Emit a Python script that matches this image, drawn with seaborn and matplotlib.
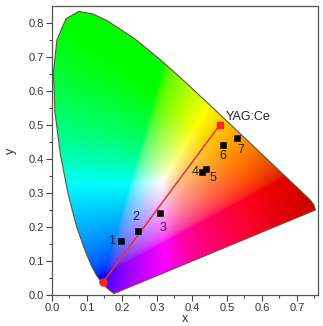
import numpy as np
import pandas as pd
import matplotlib
matplotlib.use("Agg")
import matplotlib.pyplot as plt
from matplotlib.path import Path
from matplotlib.patches import PathPatch
import seaborn as sns

sns.set_theme(style="ticks")
plt.rcParams["font.family"] = ["Liberation Sans", "DejaVu Sans"]

# spectral locus as drawn in the figure (380-700 nm)
locus_x = [0.1785, 0.1781, 0.1776, 0.1769, 0.1757, 0.1731, 0.1685, 0.1605, 0.1476, 0.1272,
           0.1123, 0.0936, 0.0704, 0.0465, 0.0241, 0.0084, 0.0040, 0.0142, 0.0399, 0.0762,
           0.1171, 0.1586, 0.2353, 0.3091, 0.3824, 0.4552, 0.5253, 0.5896, 0.6427, 0.6824,
           0.7088, 0.7370, 0.7483, 0.7531]
locus_y = [0.0050, 0.0049, 0.0048, 0.0048, 0.0051, 0.0069, 0.0109, 0.0177, 0.0297, 0.0578,
           0.0868, 0.1327, 0.2007, 0.2950, 0.4127, 0.5384, 0.6548, 0.7502, 0.8120, 0.8338,
           0.8262, 0.8059, 0.7543, 0.6923, 0.6245, 0.5547, 0.4866, 0.4242, 0.3725, 0.3340,
           0.3083, 0.2809, 0.2660, 0.2500]

# samples
sample_labels = ["1", "2", "3", "4", "5", "6", "7"]
sample_x = [0.197, 0.246, 0.309, 0.429, 0.440, 0.489, 0.529]
sample_y = [0.159, 0.188, 0.241, 0.362, 0.371, 0.441, 0.462]

# tie line: blue end and YAG:Ce
line_x = [0.146, 0.480]
line_y = [0.038, 0.500]

xmax, ymax = 0.76, 0.85

fig = plt.figure(figsize=(3.23, 3.26), dpi=100)
ax = fig.add_axes([0.161, 0.095, 0.823, 0.887])

# colour fill of the horseshoe
n = 400
gx, gy = np.meshgrid(np.linspace(0, xmax, n), np.linspace(0, ymax, n))
gy_safe = np.where(gy < 1e-4, 1e-4, gy)
X = gx / gy_safe
Y = np.ones_like(gx)
Z = (1 - gx - gy) / gy_safe
M = np.array([[3.2406, -1.5372, -0.4986],
              [-0.9689, 1.8758, 0.0415],
              [0.0557, -0.2040, 1.0570]])
rgb = np.einsum("ij,jkl->kli", M, np.stack([X, Y, Z]))
rgb = np.clip(rgb, 0, None)
rgb = rgb / rgb.max(axis=2, keepdims=True).clip(1e-9)
rgb[..., 2] = rgb[..., 2] ** 2.0
rgb = np.where(rgb <= 0.0031308, 12.92 * rgb, 1.055 * rgb ** (1 / 2.4) - 0.055)
rgb = np.clip(rgb, 0, 1)
# slightly deeper red toward the long-wavelength corner
shade = 1 - 0.2 * np.clip((gx - 0.55) / 0.2, 0, 1)
rgb = rgb * shade[..., None]

im = ax.imshow(rgb, extent=[0, xmax, 0, ymax], origin="lower", aspect="auto",
               interpolation="bilinear", zorder=1)
verts = list(zip(locus_x, locus_y)) + [(locus_x[0], locus_y[0])]
clip = PathPatch(Path(verts), transform=ax.transData, facecolor="none", edgecolor="none")
ax.add_patch(clip)
im.set_clip_path(clip)
ax.plot([p[0] for p in verts], [p[1] for p in verts], color="#5a5a3a", lw=0.8, zorder=2)

# tie line
line_df = pd.DataFrame({"x": line_x, "y": line_y})
sns.lineplot(data=line_df, x="x", y="y", ax=ax, color="#e8362c", lw=1.1, zorder=3,
             estimator=None, sort=False)
ax.scatter(line_x[1], line_y[1], marker="s", s=24, color="#f02a1e", zorder=4)
ax.scatter(line_x[0], line_y[0], marker="o", s=26, color="#f02a1e", zorder=4)

# samples
samp_df = pd.DataFrame({"x": sample_x, "y": sample_y, "label": sample_labels})
sns.scatterplot(data=samp_df, x="x", y="y", ax=ax, marker="s", s=22, color="black",
                edgecolor="black", zorder=5)

offsets = {"1": (-0.028, 0, "center"), "2": (-0.005, 0.04, "center"),
           "3": (0.008, -0.044, "center"), "4": (-0.02, 0, "center"),
           "5": (0.02, -0.027, "center"), "6": (0.0, -0.031, "center"),
           "7": (0.011, -0.035, "center")}
for lab, xx, yy in zip(sample_labels, sample_x, sample_y):
    dx, dy, ha = offsets[lab]
    ax.text(xx + dx, yy + dy, lab, fontsize=9, color="#222222", ha=ha, va="center", zorder=6)
ax.text(line_x[1] + 0.017, line_y[1] + 0.022, "YAG:Ce", fontsize=9, color="#222222",
        ha="left", va="center", zorder=6)

ax.set_xlim(0, xmax)
ax.set_ylim(0, ymax)
ax.set_xticks(np.arange(0, 0.71, 0.1))
ax.set_yticks(np.arange(0, 0.81, 0.1))
ax.set_xticks(np.arange(0.05, 0.76, 0.1), minor=True)
ax.set_yticks(np.arange(0.05, 0.85, 0.1), minor=True)
ax.xaxis.set_major_formatter(matplotlib.ticker.FormatStrFormatter("%.1f"))
ax.yaxis.set_major_formatter(matplotlib.ticker.FormatStrFormatter("%.1f"))
ax.tick_params(which="major", length=4, width=0.8, color="#444444", labelsize=8,
               labelcolor="#333333", pad=2)
ax.tick_params(which="minor", length=2.5, width=0.8, color="#444444")
for s in ax.spines.values():
    s.set_color("#555555")
    s.set_linewidth(0.9)
ax.set_xlabel("x", fontsize=9, color="#333333", labelpad=0)
ax.set_ylabel("y", fontsize=9, color="#333333", labelpad=8)

fig.savefig("out.png", dpi=100)
